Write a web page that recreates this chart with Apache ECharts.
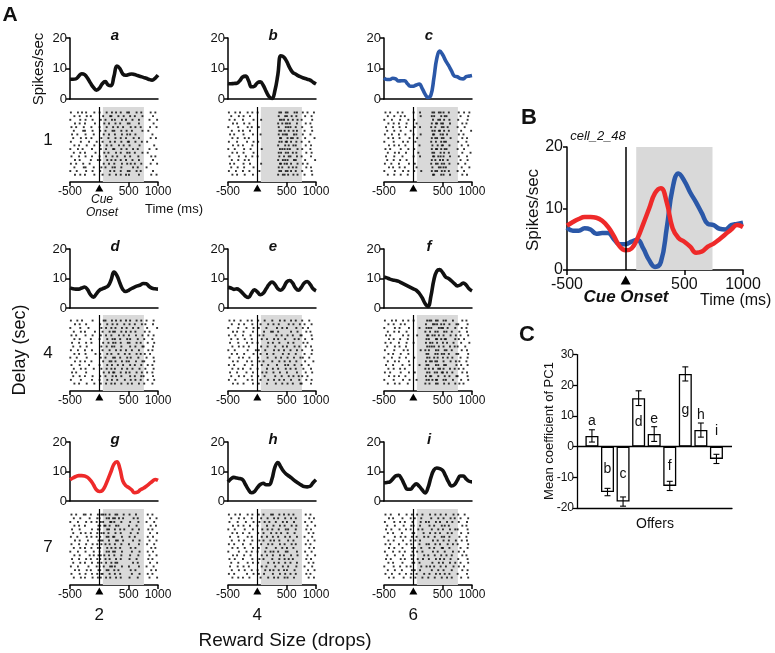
<!DOCTYPE html>
<html><head><meta charset="utf-8">
<script src="https://cdn.jsdelivr.net/npm/echarts@6/dist/echarts.min.js"></script>
<style>html,body{margin:0;padding:0;background:#fff}#c{width:775px;height:653px}</style>
</head><body><div id="c"></div>
<script>
// ---------- DATA ----------
const times = [-500,-450,-400,-350,-300,-250,-200,-150,-100,-50,0,50,100,150,200,250,300,350,400,450,500,550,600,650,700,750,800,850,900,950,1000];
const psthA = [6.5,6.5,6.6,7.5,8.3,8.0,6.8,5.2,3.8,2.9,3.5,5.0,5.7,4.6,4.4,7.5,10.8,10.0,8.2,7.8,8.0,8.2,8.0,7.7,7.4,7.1,6.8,6.4,6.2,6.8,7.8];
const psthB = [5.1,5.0,5.1,5.2,6.0,7.2,7.5,6.0,4.0,4.2,5.3,5.6,4.5,2.5,0.8,0.2,2.8,8.0,14.2,13.8,12.3,10.3,8.8,8.2,7.6,7.2,6.8,6.5,6.2,5.5,4.9];
const psthD = [6.8,6.5,6.4,6.4,6.8,7.1,6.2,4.5,3.7,4.8,6.0,6.5,6.9,7.5,9.5,12.2,11.0,8.5,6.3,5.6,6.0,6.6,7.1,7.5,7.8,8.3,8.2,7.3,6.7,6.5,6.4];
const psthE = [7.0,6.8,6.3,6.5,6.0,5.0,4.0,3.6,5.0,6.2,5.5,4.5,5.0,6.5,8.0,8.8,8.0,6.5,6.0,7.0,8.8,9.3,8.5,6.8,6.0,7.0,8.5,9.0,8.0,6.5,5.8];
const psthF = [10.5,10.2,9.8,9.5,9.3,9.0,8.5,8.0,7.5,7.0,6.5,6.0,5.0,3.5,1.5,0.5,4.0,9.5,12.5,13.0,12.0,10.5,10.0,9.2,8.3,7.5,7.8,8.5,7.8,6.5,5.8];
const psthH = [6.5,7.5,8.0,7.8,7.6,7.2,5.5,3.8,2.8,3.2,4.5,5.6,6.0,5.5,5.5,7.5,11.5,13.0,11.5,10.0,9.0,8.3,7.5,6.7,6.0,5.4,4.9,4.8,5.0,6.2,7.2];
const psthI = [6.2,6.3,6.5,7.5,8.5,8.7,7.5,5.5,4.0,4.0,5.0,5.8,5.0,3.8,2.7,4.5,8.0,10.5,11.2,11.0,10.4,8.5,6.5,5.1,5.5,7.0,8.5,8.5,7.5,6.7,6.5];
// cell_2_48: blue = offer c, red = offer g
const psthBlue = [6.9,6.4,6.4,6.8,6.6,5.9,6.0,6.0,5.0,4.2,4.2,4.6,4.9,3.5,1.6,0.5,1.3,6.8,13.3,15.7,14.5,12.6,11.0,9.2,7.5,7.3,6.7,6.6,7.3,7.5,7.7];
const psthRed  = [7.2,7.8,8.3,8.6,8.6,8.5,8.0,7.0,5.5,3.8,3.2,3.5,5.1,7.5,10.0,12.5,13.3,11.0,6.8,5.2,4.6,3.8,2.8,3.0,3.8,4.3,5.0,5.8,6.6,7.3,7.0];

// raster rows: 50 ms bins from -500 ms; '.' = no spike, digit d = spike at (d-1)*10+5 ms into the bin
const rasterA = [
"2.4.1 3..2. 1.3.2 4.2.3 1.4.2 ..3.1",".3.2. 4.1.. .2.41 .3.2. 3.1.4 ...2.","1..3. 2.4.. 3.1.2 2.4.1 .2.3. ..1.4",
".4.2. 1..3. .4.2. 3.1.4 2..3. ...3.","3.1.4 ..2.. 1.3.4 .2.1. 4.2.1 ..2.3",".2..3 1.4.. 2.1.3 1.3.2 .1..4 .4...",
"4.3.. 2..1. .3.2. 2.4.3 3.2.. ...1.",".1.4. 3.2.. 4..1. 3.2.1 .4.3. ..3.2","2..4. .3..1 .1.4. 2.3.4 1.2.3 .2...",
".3.1. 4..2. 2.3.1 .4.2. 2..4. ...4.","1.4.2 ..3.. 3.2.4 1.3.2 .3.1. ..1.3",".2.3. 1..4. .4.1. 4.2.3 2.1.4 .3...",
"3..1. 2.3.. 1.2.3 .1.4. 3..2. ..4.1",".4.2. ..1.3 2.4.1 3.2.1 .2.3. ...2.","2.1.3 .4... .3.2. 1.4.3 4.1.2 ..3.4",
".3..4 2..1. 4.1.3 2.3.. .3.1. .1...","1.2.. 3.4.. 2..4. 1.2.4 2.4.1 ...2.",".4.3. 1..2. .1.3. 4.2.1 1..3. ..4.3"];
const rasterB = [
"2.3.1 .4.2. 1.... ..314 2.43. 3.1.2",".1.4. 2.3.. ..... ..2.3 14.2. .2.3.","3.2.. 1..4. .2... ..421 3.14. 1..4.",
".4.1. 3.2.. ..... ..134 21.3. .3.1.","1..3. .4.1. 3.... ..2.4 32.1. 2..3.",".2.4. 1.3.. ..... ..312 4.23. .1.4.",
"4.1.. 2..3. .1... ..243 1.32. 3..1.",".3.2. 4.1.. ..... ..41. 2314. .2..3","2..1. .3.4. 2.... ..324 13.2. 1.4..",
".4.3. 1..2. ..... ..1.3 4.21. .3.2.","1.2.. 3.4.. .3... ..432 21.4. 2..1.",".3.1. 2..4. ..... ..214 3.12. .4.3.",
"3..4. .1.2. 1.... ..3.1 42.3. 1..2.",".2.3. 4.1.. ..... ..143 2.31. .2..4","4.1.. 2.3.. .2... ..412 13.4. 3.1..",
".1.2. 3..4. ..... ..23. 4.12. .4.2.","2.4.. 1.2.. 4.... ..314 23.1. 2..3.",".3.1. 4..3. ..... ..142 3.24. .1.4."];
const rasterC = [
"3.1.4 .2... 1.2.. .3142 2.1.. 3.2.1",".2.3. 4.1.. ..3.. .21.3 42... .1.4.","1.4.. 3..2. 2.... .4.31 3.2.. 2..3.",
".3.2. 1.4.. .1... .2413 1.3.. .4.1.","4..1. 2.3.. 3.2.. .13.4 24... 1.3..",".1.3. 4...1 ..... .3241 3.1.. .2..4",
"2.4.. 1.2.. 1.3.. .41.2 13... 3.1..",".3.1. 2..4. .2... .2314 2.4.. .4.2.","1..2. .3.1. 4.... .14.3 31... 2..1.",
".4.3. 1.2.. ..1.. .3.24 1.2.. .3.4.","3.1.. 4..2. 2.... .2413 42... 1.2..",".2.4. 1.3.. .4... .31.2 3.1.. .4..3",
"4..3. .2... 1.2.. .4132 2.3.. 3..2.",".1.2. 3.4.. ..... .23.1 14... .1.3.","2.3.. 1..3. 3.... .1424 3.2.. 2.4..",
".4.1. 2.1.. .1... .3.42 21... .3..1","1..4. .3.2. 2.4.. .2314 4.1.. 1.2..",".2.3. 4..1. ..... .41.3 2.3.. .4.2."];
const rasterD = [
"2.3.1 ..4.. .31.2 4.2.1 3.4.2 .1.3.",".4.2. 3.... 2.4.3 .1.3. 2.1.3 4..2.","1..3. .2... 4.2.1 3.4.2 .3.2. .2..4",
".2.4. 1..3. .1.34 2.3.1 4.2.. 3.1..","3.1.. 2.4.. 3.2.1 .4.2. 1.3.4 .4.3.",".3.2. ..1.. 1.4.3 2.1.3 3..1. 2..1.",
"4..1. 3.2.. .2.14 3.2.4 2.4.1 .3.4.",".1.3. 4.... 4.3.2 1.3.. 3.2.4 1..2.","2.4.. 1.3.. .1.3. 4.2.1 .1.3. .4.1.",
".3.1. 2..4. 2.4.1 .3.4. 2.4.1 3.2..","1.2.. 4.... 3.1.4 2.1.3 4..2. .1.3.",".4.3. 1.2.. .2.31 3.4.2 1.3.4 2..4.",
"3..2. .3... 1.4.2 .2.1. 3.1.2 .3.1.",".2.4. 2..1. 4.3.1 2.4.3 .2.4. 4..3.","4.1.. 3.... .3.24 1.2.1 2.4.3 .2.1.",
".1.2. 1.4.. 2.1.3 4.3.. 3.1.2 1..2.","2..4. ..3.. 1.4.2 .1.4. 4.2.1 .3.4.",".3.1. 4..2. 3.2.1 2.3.4 .1.3. 2..1."];
const rasterE = [
"3.1.2 .4.1. 2.3.. 1.4.2 .3.1. 2.4..",".2.4. 3..2. .1.4. 3.2.. 4.2.3 .1.3.","1..3. .2.4. 3..1. .4.3. 1..2. 3.2..",
".4.1. 2..3. ..2.4 2.1.. .3.4. .4.1.","2.3.. 1.4.. 4.1.. .3.2. 2.1.4 1..3.",".1.2. 4..1. .3.2. 4.1.3 ..4.1 .2.4.",
"4..3. .3.2. 1..4. 2.3.. 3.2.. 4.1..",".3.4. 2.1.. .2.3. .1.4. 1.4.2 .3.2.","1.2.. .4..3 3.4.. 4.2.1 .2.3. 2..4.",
".2.1. 3..4. .1.2. 3..4. 4..1. .1.3.","3..4. 1.2.. 2..3. .2.1. 2.3.4 3.4..",".4.2. .3.1. 4.1.. 1.3.2 .1.2. .2..1",
"2.1.. 4..2. .3.4. .4..3 3.4.. 1.3..",".3.3. 1.4.. 1..2. 2.1.4 .2.1. 4..2.","4..1. .2.3. .4.1. 3.4.. 1..3. .3.4.",
".1.4. 3..1. 2.3.. .1.2. 4.2.1 2.1..","2.3.. .4.2. .1.4. 4.3.1 .3..2 .4.3.",".4.2. 2..3. 3..2. .2.3. 2.1.4 1..2."];
const rasterF = [
"2.4.1 .3.2. 1...4 3142. 21.3. .4.1.",".3.2. 4.1.. ....2 .4213 3.2.4 2..3.","1..4. 2..3. ..1.3 21.43 14..2 .3.1.",
".2.3. 1.4.. ....1 4.32. 32.1. 4..2.","4.1.. .3.2. .2..4 1324. 2.4.3 .1.4.",".4.2. 3..1. ....3 2.413 41..2 3.2..",
"3.2.. 1.4.. 1...2 43.1. 13.4. .2..1",".1.4. 2.3.. ....4 3214. 2.3.1 1.4..","2..3. .4.1. ..3.1 2.43. 42.1. .3.2.",
".3.1. 4..2. ....3 1.324 3.1.4 2..4.","1.4.. 2.3.. 2...4 3.12. 14.2. .1.3.",".2.4. 1..3. ....2 4231. 2.4.3 4..1.",
"4..1. .2.4. ..1.3 1.43. 31..4 .2.3.",".3.2. 3.1.. ....1 24.31 2.3.1 3.1..","2.1.. 4..3. 3...4 3.214 13.2. .4.2.",
".4.3. 1.2.. ....2 41.3. 4.2.4 1..3.","1..2. .3.4. .1..3 2341. 21.3. .2.4.",".2.4. 2..1. ....1 3.42. 3.1.2 4.1.."];
const rasterG = [
"3.1.4 2.1.3 4213. 31.2. 2.3.. .3.1.",".2.3. .4..2 1.324 24.1. .4.1. ..2.3","1.4.. 3.2.1 32.41 1.3.. 3..2. .1.4.",
".3.1. 1...4 2413. 43... 1.4.. ..3.2","4..2. ..3.3 1.42. 2.13. .2.3. .4.1.",".1.4. 2.1.2 43.1. 3.2.. 4..1. ..2.4",
"2.3.. 4.2.1 2.314 1.4.. 2.1.. .3.2.",".4.2. .1..4 31.2. 42.1. .3.4. ..1.3","3..1. 3.4.2 4.13. 2.3.. 1..3. .2.4.",
".2.3. 1.2.3 2.4.1 3.1.. 4.2.. ..4.1","1.4.. 2..1. 1.324 2.4.. .1.4. .3.2.",".3.2. .4.14 34.2. 1.3.. 3..2. ..1.3",
"4..1. 3.1.2 2.13. 4.2.. 2.4.. .4.1.",".1.3. 1.3.3 4.2.1 31... .3.1. ..2.4","2.4.. .2..1 13.42 2.4.. 1..3. .1.3.",
".4.1. 4.1.4 2.31. 13... 4.2.. ..4.2","3..2. 2.3.2 41.3. 2.1.. .1.4. .3.1.",".2.4. 1.4.3 3.24. 4.2.. 2..1. ..1.4"];
const rasterH = [
"2.3.1 .4.2. 3.1.4 2.3.1 4.2.. .3.1.",".1.4. 3..1. .2.3. 4.1.3 .3.1. ..4.2","3..2. .1.4. 4.3.1 .2.4. 1.3.. .2.3.",
".4.3. 2.3.. 1..2. 3.4.2 .4.2. ..1.4","1.2.. 4..3. .4.3. 1.2.4 3..1. .4.2.",".3.1. 1.2.. 2.1.4 .3.1. 2.4.. ..3.1",
"4..3. .4.1. .3.2. 2.1.3 .1.3. .1.4.",".2.4. 3..2. 4.1.3 4.3.. 3.2.. ..2.3","2.1.. 1.4.. .2.4. 1.4.2 .4.1. .3.1.",
".3.2. 4..3. 3..1. .2.3. 1.2.. ..4.2","1..4. .2.1. 1.4.3 3.1.4 2..3. .2.3.",".4.1. 3.4.. .3.2. 2.4.1 .3.4. ..1.4",
"3.2.. 1..2. 4.1.. 1.3.2 4.1.. .4.2.",".1.3. .4.3. 2..4. 4.2.3 .2.3. ..3.1","4..2. 2.1.. .3.1. .1.4. 3..2. .1.4.",
".2.4. 4..1. 1.4.2 3.2.1 1.4.. ..2.3","2.1.. .3.4. 3.2.. 2.4.3 .2.1. .4.1.",".3.3. 1.2.. .1.4. 4.1.2 2.3.. ..3.2"];
const rasterI = [
"3.2.. 1.4.3 .2.1. 4.3.2 .1.4. 2.3..",".4.1. .2..1 3.4.. .1.3. 2.4.1 .1.4.","2..3. 3.1.4 ..3.2 2.4.1 .3.2. 3..2.",
".1.4. .4..2 1.2.. 3.1.4 4.1.. .4.1.","4.3.. 2.3.1 .4.1. .2.3. 1.3.2 1..3.",".2.1. .1..4 2..3. 4.3.1 .4.1. .2.4.",
"1..4. 4.2.3 .1.4. 1.2.4 3.2.. 4..1.",".3.2. .3..1 4.2.. .4.2. 2.1.3 .3.2.","3.1.. 1.4.2 ..1.3 2.3.1 .4.3. 1..4.",
".4.3. .2..3 3.4.. 3.1.4 1.2.. .1.3.","2..1. 2.1.4 .2.1. .4.2. 4..3. 3.2..",".1.4. .3..2 1..4. 1.2.3 .2.1. .4.1.",
"4.2.. 4.1.3 .3.2. 2.4.1 3.4.. 2..3.",".3.1. .2..4 2.1.. .3.4. 1.3.2 .1.4.","1..2. 3.4.1 ..4.3 4.1.2 .1.4. 3.2..",
".2.4. .1..3 3.2.. .2.3. 2..1. .4.3.","3.4.. 2.3.2 .1.4. 3.4.1 4.2.. 1..2.",".4.2. .4..1 4..1. 1.2.4 .3.1. .2.4."];

const panelNames = ['a','b','c','d','e','f','g','h','i'];
const delayLabels = ['1','4','7'];
const rewardLabels = ['2','4','6'];
const xTickValues = [-500, 500, 1000];

const offerLabels = ['a','b','c','d','e','f','g','h','i'];
const pc1Mean = [3.5, -14.8, -17.9, 15.8, 4.1, -12.8, 23.7, 5.4, -4.0];
const pc1Err  = [2.0, 1.2, 1.5, 2.4, 2.4, 1.5, 2.3, 2.3, 1.5];

// ---------- STYLE / LAYOUT ----------
const FONT = '"Liberation Sans", Arial, Helvetica, sans-serif';
const BLACK = '#111', BLUE = '#2b58a8', RED = '#ee2a2a', GRAY = '#d9d9d9';
const psthList = [psthA, psthB, psthBlue, psthD, psthE, psthF, psthRed, psthH, psthI];
const rasterList = [rasterA, rasterB, rasterC, rasterD, rasterE, rasterF, rasterG, rasterH, rasterI];
const colorList = [BLACK, BLACK, BLUE, BLACK, BLACK, BLACK, RED, BLACK, BLACK];
const colX = [70, 228, 384], colW = 88;
const psthTopPx = [38, 249, 442], psthHtPx = [61, 59, 59];
const rasTopPx = [107, 315, 509], rasHtPx = [75, 76, 76];
const plainNum = (v) => String(v);

const grids = [], xAxes = [], yAxes = [], series = [], graphics = [];
function addGrid(g, xa, ya) {
  const i = grids.length;
  grids.push(Object.assign({ containLabel: false, outerBoundsMode: 'none' }, g));
  xa.gridIndex = i; ya.gridIndex = i;
  xAxes.push(xa); yAxes.push(ya);
  return i;
}
const axLine = (w) => ({ show: true, onZero: false, lineStyle: { color: '#000', width: w } });
function rasterPoints(rows) {
  const pts = [];
  rows.forEach((r, ri) => {
    const s = r.replace(/ /g, '');
    for (let k = 0; k < s.length; k++) {
      const c = s[k];
      if (c !== '.') pts.push([-500 + 50 * k + (Number(c) - 1) * 10 + 5, rows.length - 1 - ri]);
    }
  });
  return pts;
}
function txt(x, y, text, font, opt) {
  graphics.push(Object.assign({
    type: 'text', x: x, y: y, silent: true,
    style: Object.assign({ text: text, font: font, fill: '#111', align: 'center', verticalAlign: 'middle' }, (opt && opt.style) || {})
  }, (opt && opt.el) || {}));
}

// ---------- PANEL A ----------
for (let p = 0; p < 9; p++) {
  const row = Math.floor(p / 3), col = p % 3;
  const x0 = colX[col];
  const gi = addGrid({ left: x0, top: psthTopPx[row], width: colW, height: psthHtPx[row] },
    { type: 'value', min: -500, max: 1000, axisLine: axLine(1.5), axisTick: { show: false }, axisLabel: { show: false }, splitLine: { show: false } },
    { type: 'value', min: 0, max: 20, interval: 10, axisLine: axLine(1.5),
      axisTick: { show: true, length: 4, lineStyle: { color: '#000', width: 1.5 } },
      axisLabel: { fontSize: 13, color: '#111', margin: 3, fontFamily: FONT }, splitLine: { show: false } });
  series.push({ type: 'line', xAxisIndex: gi, yAxisIndex: gi, smooth: 0.45, symbol: 'none', silent: true,
    lineStyle: { color: colorList[p], width: 3.6 }, data: times.map((t, i) => [t, psthList[p][i]]) });
  const ri = addGrid({ left: x0, top: rasTopPx[row], width: colW, height: rasHtPx[row] },
    { type: 'value', min: -500, max: 1000, axisLine: axLine(1.5),
      axisTick: { show: true, customValues: xTickValues, length: 4, lineStyle: { color: '#000', width: 1.5 } },
      axisLabel: { customValues: xTickValues, formatter: plainNum, fontSize: 12, color: '#111', margin: 4, fontFamily: FONT }, splitLine: { show: false } },
    { type: 'value', min: -2, max: 18.5, show: false });
  series.push({ type: 'scatter', xAxisIndex: ri, yAxisIndex: ri, data: [], silent: true, z: 1,
    markArea: { silent: true, itemStyle: { color: GRAY }, data: [[{ xAxis: 60 }, { xAxis: 760 }]] },
    markLine: { silent: true, symbol: ['none', 'none'], label: { show: false }, lineStyle: { color: '#000', width: 1.2, type: 'solid' }, data: [{ xAxis: 0 }] },
    markPoint: { silent: true, symbol: 'triangle', symbolSize: [8, 7], symbolOffset: [0, 6], itemStyle: { color: '#000' }, label: { show: false }, data: [{ coord: [0, -2] }] } });
  series.push({ type: 'scatter', xAxisIndex: ri, yAxisIndex: ri, symbol: 'rect', symbolSize: 1.9, silent: true, z: 3,
    itemStyle: { color: '#000' }, data: rasterPoints(rasterList[p]) });
  txt(x0 + 45, psthTopPx[row] - 2, panelNames[p], 'italic bold 15px ' + FONT);
}
txt(10, 15, 'A', 'bold 21px ' + FONT);
txt(39, 69, 'Spikes/sec', '15px ' + FONT, { el: { rotation: Math.PI / 2 } });
txt(20, 350, 'Delay (sec)', '18px ' + FONT, { el: { rotation: Math.PI / 2 } });
delayLabels.forEach((t, i) => txt(48, [140, 353, 547][i], t, '17px ' + FONT));
rewardLabels.forEach((t, i) => txt(colX[i] + 29.3, 615, t, '17px ' + FONT));
txt(285, 641, 'Reward Size (drops)', '19px ' + FONT);
txt(102, 200, 'Cue', 'italic 12px ' + FONT);
txt(102, 213, 'Onset', 'italic 12px ' + FONT);
txt(145, 209, 'Time (ms)', '13px ' + FONT, { style: { align: 'left' } });

// ---------- PANEL B ----------
const bi = addGrid({ left: 567, top: 147, width: 176, height: 123 },
  { type: 'value', min: -500, max: 1000, axisLine: axLine(1.5),
    axisTick: { show: true, customValues: xTickValues, length: 5, lineStyle: { color: '#000', width: 1.5 } },
    axisLabel: { customValues: xTickValues, formatter: plainNum, fontSize: 16, color: '#111', margin: 7, fontFamily: FONT }, splitLine: { show: false } },
  { type: 'value', min: 0, max: 20, interval: 10, axisLine: axLine(1.5),
    axisTick: { show: true, length: 4, lineStyle: { color: '#000', width: 1.5 } },
    axisLabel: { fontSize: 16, color: '#111', margin: 4, fontFamily: FONT }, splitLine: { show: false } });
series.push({ type: 'line', xAxisIndex: bi, yAxisIndex: bi, data: [], silent: true, z: 1,
  markArea: { silent: true, itemStyle: { color: GRAY }, data: [[{ xAxis: 90 }, { xAxis: 740 }]] },
  markLine: { silent: true, symbol: ['none', 'none'], label: { show: false }, lineStyle: { color: '#000', width: 1.5, type: 'solid' }, data: [{ xAxis: 0 }] },
  markPoint: { silent: true, symbol: 'triangle', symbolSize: [10, 9], symbolOffset: [0, 10], itemStyle: { color: '#000' }, label: { show: false }, data: [{ coord: [0, 0] }] } });
series.push({ type: 'line', xAxisIndex: bi, yAxisIndex: bi, smooth: 0.45, symbol: 'none', silent: true, z: 3,
  lineStyle: { color: BLUE, width: 4.5 }, data: times.map((t, i) => [t, psthBlue[i]]) });
series.push({ type: 'line', xAxisIndex: bi, yAxisIndex: bi, smooth: 0.45, symbol: 'none', silent: true, z: 4,
  lineStyle: { color: RED, width: 4.5 }, data: times.map((t, i) => [t, psthRed[i]]) });
txt(529, 118, 'B', 'bold 22px ' + FONT);
txt(533, 210, 'Spikes/sec', '17px ' + FONT, { el: { rotation: Math.PI / 2 } });
txt(598, 136, 'cell_2_48', 'italic 13px ' + FONT);
txt(626, 297, 'Cue Onset', 'italic bold 17px ' + FONT);
txt(700, 301, 'Time (ms)', '16px ' + FONT, { style: { align: 'left' } });

// ---------- PANEL C ----------
const ci = addGrid({ left: 577, top: 354.6, width: 155, height: 153.4 },
  { type: 'value', min: -0.96, max: 9, axisLine: axLine(1.3), axisTick: { show: false }, axisLabel: { show: false }, splitLine: { show: false } },
  { type: 'value', min: -20, max: 30, interval: 10, axisLine: axLine(1.3),
    axisTick: { show: true, length: 4, lineStyle: { color: '#000', width: 1.3 } },
    axisLabel: { fontSize: 12, color: '#111', margin: 3, fontFamily: FONT }, splitLine: { show: false } });
const labelPos = ['top', 'inside', 'inside', 'inside', 'top', 'inside', 'inside', 'top', 'top'];
series.push({ type: 'bar', xAxisIndex: ci, yAxisIndex: ci, barWidth: 13, silent: true, z: 3,
  itemStyle: { color: '#fff', borderColor: '#000', borderWidth: 1.3 },
  label: { show: true, fontSize: 14, color: '#111', fontFamily: FONT, distance: 8, formatter: (p) => offerLabels[p.dataIndex] },
  data: pc1Mean.map((v, i) => ({ value: [i, v], label: { position: labelPos[i] } })),
  markLine: { silent: true, symbol: ['none', 'none'], label: { show: false }, lineStyle: { color: '#000', width: 1.3, type: 'solid' }, data: [{ yAxis: 0 }] } });
series.push({ type: 'custom', xAxisIndex: ci, yAxisIndex: ci, silent: true, z: 5,
  data: pc1Mean.map((v, i) => [i, v, pc1Err[i]]),
  renderItem: function (params, api) {
    const x = api.value(0), v = api.value(1), e = api.value(2);
    const a = api.coord([x, v + e]), b = api.coord([x, v - e]);
    const st = { stroke: '#000', lineWidth: 1.1 };
    return { type: 'group', children: [
      { type: 'line', shape: { x1: a[0], y1: a[1], x2: b[0], y2: b[1] }, style: st },
      { type: 'line', shape: { x1: a[0] - 3, y1: a[1], x2: a[0] + 3, y2: a[1] }, style: st },
      { type: 'line', shape: { x1: b[0] - 3, y1: b[1], x2: b[0] + 3, y2: b[1] }, style: st }
    ] };
  } });
txt(527, 335, 'C', 'bold 22px ' + FONT);
txt(549, 431, 'Mean coefficient of PC1', '13px ' + FONT, { el: { rotation: Math.PI / 2 } });
txt(655, 524, 'Offers', '14px ' + FONT);

// ---------- RENDER ----------
const chart = echarts.init(document.getElementById('c'), null, { renderer: 'canvas', width: 775, height: 653 });
chart.setOption({
  animation: false,
  backgroundColor: '#fff',
  textStyle: { fontFamily: FONT },
  grid: grids, xAxis: xAxes, yAxis: yAxes, series: series,
  graphic: graphics
});
</script>
</body></html>
